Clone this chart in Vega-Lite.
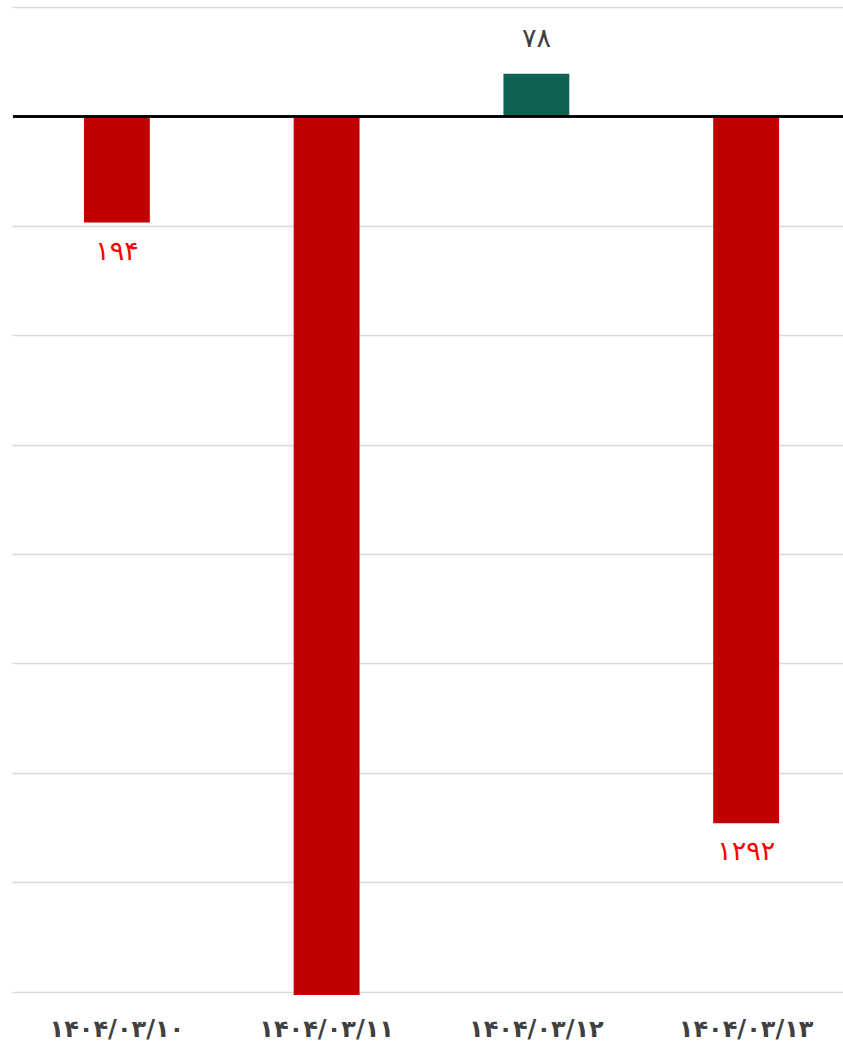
{
  "$schema": "https://vega.github.io/schema/vega-lite/v6.json",
  "width": 831,
  "height": 988,
  "padding": {"left": 12, "top": 7, "right": 0, "bottom": 0},
  "autosize": {"type": "pad"},
  "background": "#ffffff",
  "config": {"view": {"stroke": null}, "font": "DejaVu Sans"},
  "data": {"values": [
    {"date": "۱۴۰۴/۰۳/۱۰", "value": -194, "label": "۱۹۴", "direction": "down"},
    {"date": "۱۴۰۴/۰۳/۱۱", "value": -1606, "label": "", "direction": "down"},
    {"date": "۱۴۰۴/۰۳/۱۲", "value": 78, "label": "۷۸", "direction": "up"},
    {"date": "۱۴۰۴/۰۳/۱۳", "value": -1292, "label": "۱۲۹۲", "direction": "down"}
  ]},
  "encoding": {
    "x": {
      "field": "date", "type": "nominal", "sort": null,
      "scale": {"range": [-1, 838], "paddingInner": 0.686, "paddingOuter": 0.343},
      "axis": {"title": null, "domain": false, "ticks": false, "labelAngle": 0,
               "labelFontSize": 24, "labelFont": "DejaVu Sans", "labelFontWeight": "bold",
               "labelColor": "#404040", "labelPadding": 22, "grid": false}
    },
    "y": {
      "field": "value", "type": "quantitative",
      "scale": {"domain": [-1606, 200], "nice": false, "zero": false},
      "axis": {"title": null, "labels": false, "ticks": false, "domain": false,
               "values": [200, 0, -200, -400, -600, -800, -1000, -1200, -1400, -1600],
               "grid": true, "gridColor": "#d9d9d9", "gridWidth": 1.5}
    }
  },
  "layer": [
    {
      "mark": {"type": "bar"},
      "encoding": {
        "color": {"field": "direction", "type": "nominal",
                  "scale": {"domain": ["up", "down"], "range": ["#0f6252", "#c00000"]},
                  "legend": null}
      }
    },
    {
      "mark": {"type": "rule", "color": "#000000", "strokeWidth": 2},
      "encoding": {"x": {"value": 0}, "x2": {"value": 831}, "y": {"datum": 0}}
    },
    {
      "transform": [{"filter": "datum.value > 0"}],
      "mark": {"type": "text", "baseline": "bottom", "dy": -21, "fontSize": 27, "font": "DejaVu Sans"},
      "encoding": {
        "text": {"field": "label"},
        "color": {"field": "direction", "type": "nominal",
                  "scale": {"domain": ["up", "down"], "range": ["#404040", "#ff0000"]},
                  "legend": null}
      }
    },
    {
      "transform": [{"filter": "datum.value < 0"}],
      "mark": {"type": "text", "baseline": "top", "dy": 16, "fontSize": 27, "font": "DejaVu Sans"},
      "encoding": {
        "text": {"field": "label"},
        "color": {"field": "direction", "type": "nominal",
                  "scale": {"domain": ["up", "down"], "range": ["#404040", "#ff0000"]},
                  "legend": null}
      }
    }
  ],
  "resolve": {"scale": {"color": "independent"}}
}
